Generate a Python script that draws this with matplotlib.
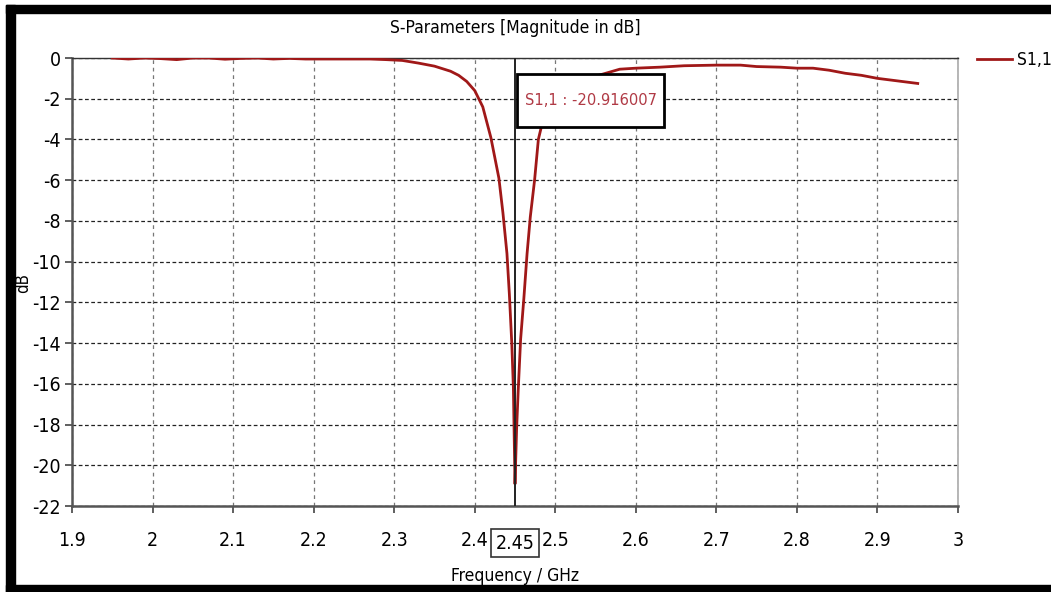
### S-Parameters plot: S1,1 magnitude in dB, marker at 2.45 GHz

import matplotlib
matplotlib.use('Agg')
import matplotlib.pyplot as plt
from matplotlib.patches import Rectangle
import numpy as np

plt.rcParams['font.family'] = ['DejaVu Sans']
plt.rcParams['font.stretch'] = 'condensed'

# data
freq_ghz = [1.95, 1.97, 1.99, 2.01, 2.03, 2.05, 2.07, 2.09, 2.11, 2.13,
            2.15, 2.17, 2.19, 2.21, 2.23, 2.25, 2.27, 2.29, 2.31, 2.33,
            2.35, 2.37, 2.38, 2.39, 2.40, 2.41, 2.42, 2.43, 2.435, 2.44,
            2.443, 2.446, 2.448, 2.45, 2.452, 2.454, 2.457, 2.461, 2.465, 2.469,
            2.4743, 2.479, 2.485, 2.49, 2.50, 2.52, 2.54, 2.56, 2.58, 2.60,
            2.63, 2.66, 2.70, 2.73, 2.75, 2.78, 2.80, 2.82, 2.84, 2.86,
            2.88, 2.90, 2.92, 2.95]
s11_db = [0.0, -0.05, 0.0, -0.03, -0.08, 0.0, 0.0, -0.06, -0.02, 0.0,
          -0.05, -0.02, -0.05, -0.05, -0.05, -0.05, -0.05, -0.08, -0.12, -0.25,
          -0.4, -0.65, -0.85, -1.15, -1.6, -2.4, -3.9, -5.9, -7.6, -9.6,
          -11.6, -14.0, -16.2, -20.916007, -18.2, -16.3, -13.8, -11.8, -9.6, -7.8,
          -6.0, -4.0, -3.0, -2.6, -1.9, -1.3, -1.0, -0.78, -0.55, -0.5,
          -0.45, -0.38, -0.35, -0.35, -0.42, -0.45, -0.5, -0.5, -0.6, -0.75,
          -0.85, -1.0, -1.1, -1.25]

x_ticks = [1.9, 2, 2.1, 2.2, 2.3, 2.4, 2.5, 2.6, 2.7, 2.8, 2.9, 3]
y_ticks = [0, -2, -4, -6, -8, -10, -12, -14, -16, -18, -20, -22]
marker_freq = 2.45
marker_value = -20.916007

fig = plt.figure(figsize=(10.51, 5.92), dpi=100)
ax = fig.add_axes([72 / 1051, 1 - 506 / 592, 886 / 1051, 448 / 592])

ax.plot(freq_ghz, s11_db, color='#a01818', linewidth=2.0, label='S1,1', zorder=3)
ax.axvline(marker_freq, color='#222222', linewidth=1.4, zorder=4)

ax.set_xlim(1.9, 3)
ax.set_ylim(-22, 0)
ax.set_xticks(x_ticks)
ax.set_xticklabels([f'{t:g}' for t in x_ticks])
ax.set_yticks(y_ticks)
ax.set_yticklabels([f'{t:g}' for t in y_ticks])

ax.grid(axis='y', color='#222222', linestyle=(0, (3, 2)), linewidth=0.9)
ax.grid(axis='x', color='#777777', linestyle=(0, (3, 3)), linewidth=0.9)
ax.set_axisbelow(True)

ax.tick_params(axis='both', labelsize=14, length=5, width=1.2, color='#444444')
ax.tick_params(axis='x', pad=13)
ax.tick_params(axis='y', pad=3)
for side in ['left', 'bottom']:
    ax.spines[side].set_color('#555555')
    ax.spines[side].set_linewidth(1.8)
ax.spines['top'].set_color('#333333')
ax.spines['top'].set_linewidth(1.0)
ax.spines['right'].set_color('#aaaaaa')
ax.spines['right'].set_linewidth(1.2)

ax.set_title('S-Parameters [Magnitude in dB]', fontsize=12.5, pad=18)
ax.set_xlabel('Frequency / GHz', fontsize=12.5, labelpad=12)
ax.set_ylabel('dB', fontsize=12)
ax.yaxis.set_label_coords((32 - 72) / 886, (506 - 283) / 448)

# marker readout box
box_left, box_right = 2.453, 2.6346
box_top, box_bottom = -0.79, -3.39
ax.add_patch(Rectangle((box_left, box_bottom), box_right - box_left, box_top - box_bottom,
                       facecolor='white', edgecolor='black', linewidth=2.0, zorder=6))
ax.text((box_left + box_right) / 2, (box_top + box_bottom) / 2, f'S1,1 : {marker_value:.6f}',
        color='#b03a45', fontsize=11.8, va='center', ha='center', zorder=7)

# boxed marker tick label
ax.text(marker_freq, -0.083, '2.45', transform=ax.get_xaxis_transform(), fontsize=14,
        ha='center', va='center', zorder=6,
        bbox=dict(boxstyle='square,pad=0.22', facecolor='white', edgecolor='#333333', linewidth=1.2))

ax.legend(loc='upper left', bbox_to_anchor=(977 / 1051, 1 - 51 / 592),
          bbox_transform=fig.transFigure, frameon=False, fontsize=12.5,
          handlelength=2.0, handletextpad=0.3, borderaxespad=0, borderpad=0)

# black frame of the screenshot
fig.add_artist(Rectangle((6 / 1051, 0), 9 / 1051, 1 - 5 / 592, transform=fig.transFigure,
                         color='black', zorder=10))
fig.add_artist(Rectangle((6 / 1051, 1 - 13 / 592), 1, 8 / 592, transform=fig.transFigure,
                         color='black', zorder=10))
fig.add_artist(Rectangle((6 / 1051, 0), 1, 7 / 592, transform=fig.transFigure,
                         color='black', zorder=10))

fig.savefig('out.png', dpi=100)
